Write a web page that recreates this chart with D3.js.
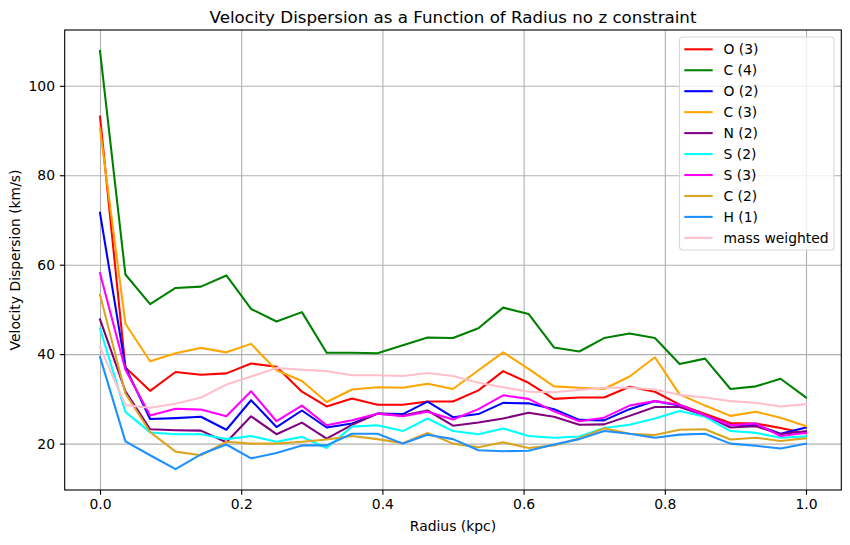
<!DOCTYPE html>
<html>
<head>
<meta charset="utf-8">
<script src="https://cdn.jsdelivr.net/npm/d3@7"></script>
<style>
  body { margin: 0; background: #fff; }
  svg { display: block; font-family: "DejaVu Sans", sans-serif; }
</style>
</head>
<body>
<div class="container"></div>
<script>
// radius bins (kpc)
const radius = [0, 0.036, 0.071, 0.107, 0.143, 0.179, 0.214, 0.25, 0.286, 0.321,
    0.357, 0.393, 0.429, 0.464, 0.5, 0.536, 0.571, 0.607, 0.643, 0.679,
    0.714, 0.75, 0.786, 0.821, 0.857, 0.893, 0.929, 0.964, 1.0]

const o3 = [93.1, 37.0, 31.8, 36.0, 35.4, 35.7, 37.9, 37.2, 31.6, 28.3, 30.1, 28.7, 28.7, 29.4, 29.4,
    31.9, 36.2, 33.6, 30.0, 30.3, 30.3, 32.7, 31.6, 28.7, 26.6, 24.6, 24.5, 23.5, 22.3]
const c4 = [107.8, 57.8, 51.2, 54.8, 55.1, 57.6, 50.1, 47.3, 49.4, 40.3, 40.3, 40.2, 42.0, 43.7, 43.6,
    45.8, 50.4, 49.0, 41.5, 40.6, 43.6, 44.6, 43.6, 37.8, 39.0, 32.2, 32.8, 34.5, 30.3]
const o2 = [71.6, 37.1, 25.5, 25.7, 26.0, 23.1, 29.7, 23.7, 27.4, 23.6, 24.5, 26.7, 26.6, 29.4, 25.9,
    26.6, 29.1, 29.0, 27.7, 25.3, 25.2, 27.7, 29.5, 28.5, 26.3, 24.1, 24.2, 22.2, 23.6]
const c3 = [90.5, 46.8, 38.4, 40.2, 41.4, 40.4, 42.3, 36.4, 34.0, 29.3, 32.1, 32.6, 32.5, 33.4, 32.2,
    36.4, 40.4, 36.7, 32.8, 32.5, 32.2, 35.0, 39.3, 31.0, 28.5, 26.2, 27.1, 25.8, 23.9]
const n2 = [47.8, 31.7, 23.2, 23.0, 22.9, 20.3, 26.1, 22.1, 24.7, 21.1, 24.2, 26.7, 26.3, 27.4, 24.0,
    24.7, 25.6, 26.9, 26.0, 24.2, 24.3, 26.2, 28.2, 28.2, 26.3, 23.6, 23.9, 22.1, 22.8]
const s2 = [45.7, 27.1, 22.5, 22.1, 22.1, 21.0, 21.7, 20.4, 21.5, 19.0, 23.8, 24.1, 22.8, 25.6, 22.8,
    22.1, 23.4, 21.7, 21.3, 21.6, 23.5, 24.2, 25.6, 27.3, 26.0, 22.8, 22.4, 21.3, 21.6]
const s3 = [58.1, 36.5, 26.3, 27.8, 27.6, 26.1, 31.7, 25.0, 28.5, 24.1, 25.2, 26.7, 26.1, 27.1, 25.4,
    27.7, 30.8, 30.0, 27.2, 25.0, 25.8, 28.5, 29.5, 28.7, 26.3, 24.1, 24.5, 21.7, 22.4]
const c2 = [53.3, 31.2, 22.6, 18.2, 17.4, 20.4, 20.0, 20.0, 20.4, 20.9, 21.7, 21.0, 20.1, 22.4, 20.0,
    19.2, 20.3, 19.0, 19.6, 21.2, 23.4, 22.2, 21.9, 23.1, 23.2, 20.9, 21.3, 20.6, 21.2]
const h1 = [39.4, 20.5, 17.4, 14.3, 17.6, 19.8, 16.7, 17.9, 19.6, 19.6, 22.2, 22.2, 20.0, 22.0, 21.0,
    18.5, 18.3, 18.4, 19.8, 21.0, 22.8, 22.2, 21.3, 22.0, 22.2, 20.0, 19.5, 18.9, 20.0]
const massWeighted = [41.6, 28.6, 28.0, 28.9, 30.3, 33.2, 35.0, 36.9, 36.5, 36.2, 35.3, 35.3, 35.1, 35.8, 35.1,
    33.6, 32.6, 31.6, 31.5, 32.0, 32.5, 32.5, 32.1, 30.9, 30.3, 29.5, 29.1, 28.3, 28.8]

const labels = ['O (3)', 'C (4)', 'O (2)', 'C (3)', 'N (2)', 'S (2)', 'S (3)', 'C (2)', 'H (1)', 'mass weighted']
const colors = ['red', 'green', 'blue', 'orange', 'purple', 'cyan', 'magenta', 'goldenrod', 'dodgerblue', 'pink']
const seriesValues = [o3, c4, o2, c3, n2, s2, s3, c2, h1, massWeighted]

const xTicks = [0, 0.2, 0.4, 0.6, 0.8, 1.0]
const yTicks = [20, 40, 60, 80, 100]

const W = 850, H = 545
const margin = {top: 30, left: 64.7, right: 8.7, bottom: 55}
const width = W - margin.left - margin.right
const height = H - margin.top - margin.bottom
const FS = 13.9   // 10pt @ 100dpi
const LW = 1.11   // 0.8pt

const svg = d3.select('.container')
    .append('svg')
    .attr('width', W)
    .attr('height', H)

const g = svg.append('g')
    .attr('transform', `translate(${margin.left}, ${margin.top})`)

// matplotlib-style 5% padding around data
const allY = seriesValues.flat()
const yMin = d3.min(allY), yMax = d3.max(allY)
const yPad = (yMax - yMin) * 0.05
const xScale = d3.scaleLinear().domain([-0.05, 1.05]).range([0, width])
const yScale = d3.scaleLinear().domain([yMin - yPad, yMax + yPad]).range([height, 0])

// grid
const gridX = g.append('g')
    .attr('transform', `translate(0, ${height})`)
    .call(d3.axisBottom(xScale).tickValues(xTicks).tickSize(-height).tickFormat(''))
gridX.select('.domain').remove()
gridX.selectAll('line').attr('stroke', '#b0b0b0').attr('stroke-width', LW)

const gridY = g.append('g')
    .call(d3.axisLeft(yScale).tickValues(yTicks).tickSize(-width).tickFormat(''))
gridY.select('.domain').remove()
gridY.selectAll('line').attr('stroke', '#b0b0b0').attr('stroke-width', LW)

// lines
const line = d3.line()
    .x((d, i) => xScale(radius[i]))
    .y(d => yScale(d))

seriesValues.forEach((vals, k) => {
    g.append('path')
        .datum(vals)
        .attr('fill', 'none')
        .attr('stroke', colors[k])
        .attr('stroke-width', 2.08)
        .attr('stroke-linejoin', 'round')
        .attr('stroke-linecap', 'square')
        .attr('d', line)
})

// frame
g.append('rect')
    .attr('width', width)
    .attr('height', height)
    .attr('fill', 'none')
    .attr('stroke', '#000')
    .attr('stroke-width', LW)

// axes ticks + labels
const xAxis = g.append('g')
    .attr('transform', `translate(0, ${height})`)
    .call(d3.axisBottom(xScale).tickValues(xTicks).tickSize(4.86).tickPadding(4.4).tickFormat(d3.format('.1f')))
xAxis.select('.domain').remove()

const yAxis = g.append('g')
    .call(d3.axisLeft(yScale).tickValues(yTicks).tickSize(4.86).tickPadding(4.86).tickFormat(d3.format('d')))
yAxis.select('.domain').remove()

;[xAxis, yAxis].forEach(ax => {
    ax.selectAll('text')
        .attr('font-size', FS)
        .attr('font-family', '"DejaVu Sans", sans-serif')
        .attr('fill', '#000')
    ax.selectAll('line').attr('stroke', '#000').attr('stroke-width', LW)
})

// titles
svg.append('text')
    .attr('x', margin.left + width / 2)
    .attr('y', 23.3)
    .attr('text-anchor', 'middle')
    .attr('font-size', 16.7)
    .text('Velocity Dispersion as a Function of Radius no z constraint')

svg.append('text')
    .attr('x', margin.left + width / 2)
    .attr('y', 531)
    .attr('text-anchor', 'middle')
    .attr('font-size', FS)
    .text('Radius (kpc)')

svg.append('text')
    .attr('transform', `translate(19.6, ${margin.top + height / 2}) rotate(-90)`)
    .attr('text-anchor', 'middle')
    .attr('font-size', FS)
    .text('Velocity Dispersion (km/s)')

// legend
const legend = svg.append('g').attr('transform', 'translate(679.5, 37)')
legend.append('rect')
    .attr('width', 154.5)
    .attr('height', 213)
    .attr('rx', 3)
    .attr('fill', 'rgba(255,255,255,0.8)')
    .attr('stroke', '#d8d8d8')
    .attr('stroke-width', LW)

labels.forEach((lab, k) => {
    const y = 12.3 + k * 20.95
    legend.append('line')
        .attr('x1', 4.8).attr('x2', 33.2)
        .attr('y1', y).attr('y2', y)
        .attr('stroke', colors[k])
        .attr('stroke-width', 2.08)
    legend.append('text')
        .attr('x', 44)
        .attr('y', y + 5)
        .attr('font-size', FS)
        .text(lab)
})
</script>
</body>
</html>
